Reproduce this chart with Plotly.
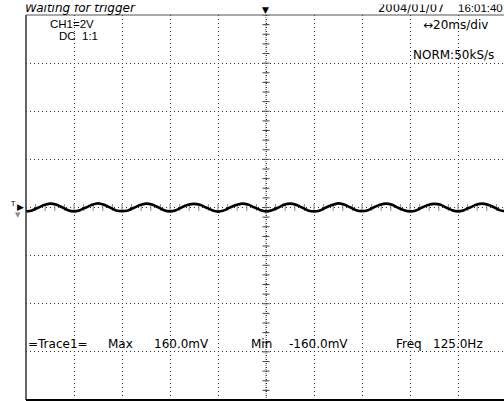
import plotly.graph_objects as go

# ---- data ----
sample_interval_ms = 2.5
volts = [
    -0.16, -0.12, -0.01, 0.10, 0.16, 0.12, 0.01, -0.11,
    -0.16, -0.11, 0.00, 0.11, 0.17, 0.11, 0.00, -0.12,
    -0.15, -0.12, -0.01, 0.10, 0.16, 0.12, 0.01, -0.11,
    -0.16, -0.11, 0.01, 0.11, 0.15, 0.11, 0.00, -0.11,
    -0.17, -0.12, 0.00, 0.10, 0.16, 0.12, 0.01, -0.10,
    -0.16, -0.11, -0.01, 0.11, 0.16, 0.11, 0.00, -0.12,
    -0.16, -0.12, 0.00, 0.10, 0.17, 0.12, 0.01, -0.11,
    -0.15, -0.11, 0.01, 0.11, 0.16, 0.11, -0.01, -0.11,
    -0.16, -0.12, 0.00, 0.10, 0.15, 0.12, 0.00, -0.11,
    -0.16, -0.11, 0.00, 0.11, 0.16, 0.11, 0.01, -0.12,
    -0.16,
]
times = [i * sample_interval_ms for i in range(len(volts))]

time_per_div = 20      # ms
volt_per_div = 2       # V
n_xdiv = 10
n_ydiv = 8

header_left = "Waiting for trigger"
ch_label = "CH1=2V"
coupling_label = "DC  1:1"
date_label = "2004/01/07"
clock_label = "16:01:40"
timebase_label = "↔20ms/div"
mode_label = "NORM:50kS/s"
meas_labels = ["=Trace1=", "Max", "160.0mV", "Min", "-160.0mV", "Freq", "125.0Hz"]

# ---- layout geometry ----
W, H = 504, 401
L, T, B = 26, 15, 1
pw = W - L
ph = H - T - B
full_w = 480  # 10 div * 48 px; right edge falls off canvas
xmax = n_xdiv * time_per_div
xrange_end = xmax * pw / full_w
yhalf = n_ydiv * volt_per_div / 2


def px(x):
    return (x - L) / pw


def py(y):
    return (H - B - y) / ph


fig = go.Figure()

# center axis minor ticks
ytick_vals = [k * volt_per_div / 5 for k in range(-5 * n_ydiv // 2, 5 * n_ydiv // 2 + 1)]
xtick_vals = [k * time_per_div / 5 for k in range(0, 5 * n_xdiv + 1)]
fig.add_trace(go.Scatter(
    x=[xmax / 2] * len(ytick_vals), y=ytick_vals, mode="markers",
    marker=dict(symbol="line-ew", size=5, line=dict(width=1, color="#444")),
    hoverinfo="skip", showlegend=False))
fig.add_trace(go.Scatter(
    x=xtick_vals, y=[0] * len(xtick_vals), mode="markers",
    marker=dict(symbol="line-ns", size=5, line=dict(width=1, color="#888")),
    hoverinfo="skip", showlegend=False))

# waveform
fig.add_trace(go.Scatter(
    x=times, y=volts, mode="lines",
    line=dict(color="black", width=2.6, shape="spline", smoothing=0.6),
    hoverinfo="skip", showlegend=False))

fig.update_xaxes(range=[0, xrange_end], showgrid=True, gridcolor="#333",
                 griddash="1px,3px", gridwidth=1, dtick=time_per_div, tick0=0,
                 showticklabels=False, zeroline=False, showline=False, ticks="")
fig.update_yaxes(range=[-yhalf, yhalf], showgrid=True, gridcolor="#333",
                 griddash="1px,3px", gridwidth=1, dtick=volt_per_div, tick0=0,
                 showticklabels=False, zeroline=False, showline=False, ticks="")

shapes = [
    # center vertical dense dotted line
    dict(type="line", xref="x", yref="y", x0=xmax / 2, x1=xmax / 2, y0=-yhalf, y1=yhalf,
         line=dict(color="#555", width=1, dash="1px,1px"), layer="below"),
    # borders
    dict(type="line", xref="paper", yref="paper", x0=0, x1=0, y0=0, y1=1,
         line=dict(color="#333", width=1.5)),
    dict(type="line", xref="paper", yref="paper", x0=0, x1=1, y0=0, y1=0,
         line=dict(color="black", width=2)),
    dict(type="line", xref="paper", yref="paper", x0=0, x1=1, y0=1, y1=1,
         line=dict(color="#555", width=1)),
]

ann = []


def text(s, x, y, size=12, xanchor="left", color="black", family="DejaVu Sans"):
    ann.append(dict(text=s, x=px(x), y=py(y), xref="paper", yref="paper",
                    xanchor=xanchor, yanchor="middle", showarrow=False,
                    font=dict(size=size, color=color, family=family)))


text("<i>" + header_left + "</i>", 23, 8, size=12)
text(ch_label, 48, 24.5, size=11.5, family="Liberation Sans")
text(coupling_label, 57, 36, size=11.5, family="Liberation Sans")
text(date_label, 376, 7.5, size=11.5)
text(clock_label, 456, 7.5, size=11.5, family="Liberation Sans")
text(timebase_label, 421, 25, size=12)
text(mode_label, 411, 55, size=12)

meas_x = [26, 106, 152, 249, 287, 394, 431]
for s, x in zip(meas_labels, meas_x):
    text(s, x, 344, size=12)

# trigger markers
text("▼", 265, 10, size=9, xanchor="center")
text("T", 13, 204, size=7, xanchor="center")
text("▶", 20, 207, size=9, xanchor="center")
text("▼", 18, 215, size=7, xanchor="center", color="#888")

# clip top of header like the original
ann.append(dict(text="", x=px(0), y=py(0), xref="paper", yref="paper",
                xanchor="left", yanchor="top", borderpad=0,
                showarrow=False, bgcolor="white", width=W, height=3))

fig.update_layout(
    width=W, height=H, margin=dict(l=L, r=0, t=T, b=B, pad=0),
    paper_bgcolor="white", plot_bgcolor="white",
    shapes=shapes, annotations=ann, showlegend=False,
)

fig.write_html(
    "out.html",
    config={"displayModeBar": False, "staticPlot": True},
    post_script="document.body.style.margin='0';document.body.style.padding='0';"
                "document.documentElement.style.margin='0';document.body.style.overflow='hidden';",
)
